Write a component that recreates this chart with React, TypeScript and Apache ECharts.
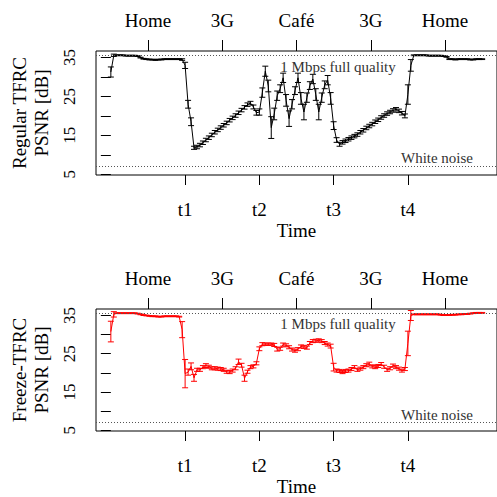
import React, { useEffect, useRef } from "react";
import * as echarts from "echarts";

// ---- data ----
const TIME_STEP = 0.04; // sampling interval in units of t
const T_POS = [1, 2, 3, 4];
const T_LABELS = ["t1", "t2", "t3", "t4"];
const PLACE_POS = [0.5, 1.5, 2.5, 3.5, 4.5];
const PLACES = ["Home", "3G", "Café", "3G", "Home"];
const Y_TICKS = [5, 10, 15, 20, 25, 30, 35];
const Y_LABELS = [5, 15, 25, 35];
const FULL_QUALITY = 35.5;
const WHITE_NOISE = 7.0;

const regularPsnr = [
  31.3, 35.6, 35.6, 35.6, 35.6, 35.5, 35.5, 35.5, 35.5, 35.4,
  35.0, 34.7, 34.6, 34.5, 34.5, 34.4, 34.5, 34.5, 34.6, 34.6,
  34.6, 34.6, 34.6, 34.6, 34.5, 33.0, 23.0, 18.5, 11.8, 12.0,
  12.5, 13.1, 13.8, 14.4, 15.1, 15.8, 16.4, 17.0, 17.6, 18.2,
  18.9, 19.5, 20.1, 20.8, 21.5, 22.2, 22.9, 23.3, 22.3, 20.8,
  21.0, 26.0, 31.5, 27.7, 17.0, 20.5, 25.2, 27.0, 29.8, 24.0,
  19.3, 23.0, 26.5, 29.8, 24.5, 21.0, 24.7, 27.8, 29.5, 25.5,
  21.0, 24.7, 28.0, 29.2, 24.5, 17.5, 13.8, 12.7, 13.2, 13.6,
  14.0, 14.4, 14.8, 15.2, 15.8, 16.3, 16.9, 17.4, 17.9, 18.5,
  19.0, 19.6, 20.1, 20.6, 21.0, 21.4, 21.7, 21.3, 20.7, 20.0,
  25.5, 33.0, 35.6, 35.6, 35.6, 35.6, 35.6, 35.5, 35.5, 35.5,
  35.5, 35.5, 35.4, 35.2, 34.6, 34.6, 34.5, 34.6, 34.6, 34.6,
  34.6, 34.5, 34.5, 34.6, 34.6, 34.6,
];
const regularErr = [
  1.3, 0.3, 0.1, 0.1, 0.1, 0.1, 0.1, 0.1, 0.1, 0.1,
  0.1, 0.1, 0.1, 0.1, 0.1, 0.1, 0.1, 0.1, 0.1, 0.1,
  0.1, 0.1, 0.1, 0.1, 0.2, 0.8, 1.0, 1.0, 0.4, 0.45,
  0.45, 0.45, 0.45, 0.45, 0.45, 0.45, 0.45, 0.45, 0.45, 0.45,
  0.45, 0.45, 0.45, 0.45, 0.45, 0.45, 0.45, 0.45, 0.5, 0.6,
  0.8, 1.2, 1.3, 1.5, 2.8, 1.5, 1.2, 1.0, 1.2, 1.5,
  2.0, 1.2, 1.0, 1.2, 1.5, 2.0, 1.2, 1.0, 1.2, 1.5,
  2.0, 1.2, 1.0, 1.2, 1.5, 1.0, 0.6, 0.5, 0.45, 0.45,
  0.45, 0.45, 0.45, 0.45, 0.45, 0.45, 0.45, 0.45, 0.45, 0.45,
  0.45, 0.45, 0.45, 0.45, 0.45, 0.45, 0.45, 0.45, 0.45, 0.5,
  2.5, 1.5, 0.1, 0.1, 0.1, 0.1, 0.1, 0.1, 0.1, 0.1,
  0.1, 0.1, 0.1, 0.1, 0.1, 0.1, 0.1, 0.1, 0.1, 0.1,
  0.1, 0.1, 0.1, 0.1, 0.1, 0.1,
];

const freezePsnr = [
  30.8, 35.3, 35.6, 35.6, 35.6, 35.6, 35.6, 35.6, 35.6, 35.5,
  35.3, 35.1, 35.0, 34.9, 34.8, 34.8, 34.7, 34.7, 34.8, 34.8,
  34.8, 34.8, 34.8, 34.7, 31.3, 19.8, 20.2, 21.7, 18.7, 20.8,
  20.8, 21.5, 21.9, 21.6, 21.2, 21.2, 21.1, 21.0, 20.8, 20.3,
  20.2, 20.6, 21.2, 22.9, 22.0, 18.6, 20.3, 21.5, 21.7, 22.5,
  26.3, 27.5, 27.5, 27.5, 27.5, 27.3, 26.2, 26.3, 27.4, 27.2,
  26.7, 26.1, 25.8, 26.2, 26.9, 26.8, 26.6, 27.8, 28.3, 28.4,
  28.5, 28.3, 27.8, 27.4, 27.0, 21.5, 20.6, 20.5, 20.2, 20.5,
  20.6, 21.0, 21.5, 20.8, 21.1, 21.5, 22.0, 22.3, 21.7, 21.5,
  21.8, 22.3, 21.6, 20.8, 21.2, 21.9, 21.5, 21.1, 20.6, 21.0,
  27.7, 35.0, 35.3, 35.3, 35.3, 35.3, 35.3, 35.3, 35.3, 35.3,
  35.3, 35.2, 35.1, 35.1, 35.1, 35.2, 35.2, 35.3, 35.3, 35.4,
  35.4, 35.5, 35.6, 35.7, 35.7, 35.7,
];
const freezeErr = [
  2.7, 0.7, 0.1, 0.1, 0.1, 0.1, 0.1, 0.1, 0.1, 0.1,
  0.1, 0.1, 0.1, 0.1, 0.1, 0.1, 0.1, 0.1, 0.1, 0.1,
  0.1, 0.1, 0.1, 0.1, 2.1, 3.7, 0.8, 0.9, 0.9, 0.4,
  0.4, 0.4, 0.5, 0.4, 0.4, 0.4, 0.4, 0.4, 0.4, 0.4,
  0.4, 0.4, 0.4, 0.7, 0.5, 0.8, 0.4, 0.4, 0.4, 0.4,
  0.5, 0.4, 0.3, 0.3, 0.3, 0.4, 0.5, 0.4, 0.4, 0.4,
  0.4, 0.4, 0.4, 0.4, 0.4, 0.4, 0.4, 0.4, 0.4, 0.4,
  0.4, 0.4, 0.4, 0.4, 0.5, 1.0, 0.4, 0.4, 0.4, 0.4,
  0.4, 0.4, 0.4, 0.4, 0.4, 0.4, 0.4, 0.5, 0.4, 0.4,
  0.4, 0.4, 0.4, 0.4, 0.4, 0.4, 0.4, 0.4, 0.4, 0.4,
  3.2, 1.3, 0.1, 0.1, 0.1, 0.1, 0.1, 0.1, 0.1, 0.1,
  0.1, 0.1, 0.1, 0.1, 0.1, 0.1, 0.1, 0.1, 0.1, 0.1,
  0.1, 0.1, 0.1, 0.1, 0.1, 0.1,
];

const FONT = "Liberation Serif";
const AXIS_FONT = 19;
const NOTE_FONT = 15;

function buildPanel(
  idx: number,
  top: number,
  title: string,
  psnr: number[],
  err: number[],
  color: string
) {
  const grid = {
    left: 96,
    top,
    width: 408,
    height: 124,
    show: true,
    borderColor: "#000",
    borderWidth: 1,
    backgroundColor: "transparent",
  };
  const textStyle = { color: "#000", fontFamily: FONT, fontSize: AXIS_FONT };
  const xBottom = {
    gridIndex: idx,
    type: "value",
    position: "bottom",
    min: -0.2,
    max: 5.2,
    axisLine: { show: false },
    splitLine: { show: false },
    axisTick: { show: true, customValues: T_POS, length: 10, lineStyle: { color: "#000", width: 1 } },
    axisLabel: {
      show: true,
      customValues: T_POS,
      formatter: (v: number) => T_LABELS[T_POS.indexOf(v)] ?? "",
      margin: 25,
      ...textStyle,
    },
    name: "Time",
    nameLocation: "middle",
    nameGap: 46,
    nameTextStyle: textStyle,
  };
  const xTop = {
    gridIndex: idx,
    type: "value",
    position: "top",
    min: -0.2,
    max: 5.2,
    axisLine: { show: false },
    splitLine: { show: false },
    axisTick: { show: true, customValues: PLACE_POS, length: 11, lineStyle: { color: "#000", width: 1 } },
    axisLabel: {
      show: true,
      customValues: PLACE_POS,
      formatter: (v: number) => PLACES[PLACE_POS.indexOf(v)] ?? "",
      margin: 21,
      ...textStyle,
    },
  };
  const y = {
    gridIndex: idx,
    type: "value",
    min: 4.8,
    max: 36.7,
    axisLine: { show: false },
    splitLine: { show: false },
    axisTick: { show: true, customValues: Y_TICKS, length: 10, lineStyle: { color: "#000", width: 1 } },
    axisLabel: {
      show: true,
      customValues: Y_LABELS,
      rotate: 90,
      margin: 18,
      ...textStyle,
      fontSize: 17,
    },
    name: title,
    nameLocation: "middle",
    nameRotate: 90,
    nameGap: 44,
    nameTextStyle: { ...textStyle, lineHeight: 22 },
  };
  const pts = psnr.map((v, i) => [i * TIME_STEP, v]);
  const bars = psnr.map((v, i) => [i * TIME_STEP, v - err[i], v + err[i]]);
  const line = {
    type: "line",
    xAxisIndex: idx * 2,
    yAxisIndex: idx,
    data: pts,
    showSymbol: false,
    symbol: "none",
    lineStyle: { color, width: 1 },
    z: 3,
    markLine: {
      silent: true,
      symbol: ["none", "none"],
      label: { show: false },
      lineStyle: { color: "#555", width: 1, type: [1, 2] },
      data: [{ yAxis: FULL_QUALITY }, { yAxis: WHITE_NOISE }],
    },
  };
  const errSeries = {
    type: "custom",
    xAxisIndex: idx * 2,
    yAxisIndex: idx,
    data: bars,
    encode: { x: 0, y: [1, 2] },
    z: 4,
    renderItem: (params: any, api: any) => {
      const x = api.value(0);
      const lo = api.coord([x, api.value(1)]);
      const hi = api.coord([x, api.value(2)]);
      const w = 3;
      const style = { stroke: color, lineWidth: 1 };
      return {
        type: "group",
        children: [
          { type: "line", shape: { x1: hi[0], y1: hi[1], x2: lo[0], y2: lo[1] }, style },
          { type: "line", shape: { x1: hi[0] - w, y1: hi[1], x2: hi[0] + w, y2: hi[1] }, style },
          { type: "line", shape: { x1: lo[0] - w, y1: lo[1], x2: lo[0] + w, y2: lo[1] }, style },
        ],
      };
    },
  };
  return { grid, xAxes: [xBottom, xTop], y, series: [line, errSeries] };
}

export default function App() {
  const ref = useRef<HTMLDivElement>(null);
  useEffect(() => {
    if (!ref.current) return;
    const chart = echarts.init(ref.current, null, { renderer: "svg" });
    const p1 = buildPanel(0, 51, "Regular TFRC\nPSNR [dB]", regularPsnr, regularErr, "#000000");
    const p2 = buildPanel(1, 309, "Freeze-TFRC\nPSNR [dB]", freezePsnr, freezeErr, "#ff0000");
    const note = (text: string, x: number, y: number) => ({
      type: "text",
      x,
      y,
      z: 10,
      style: {
        text,
        align: "center",
        verticalAlign: "middle",
        fontFamily: FONT,
        fontSize: NOTE_FONT,
        fill: "#333",
      },
    });
    chart.setOption({
      animation: false,
      backgroundColor: "#fff",
      grid: [p1.grid, p2.grid],
      xAxis: [...p1.xAxes, ...p2.xAxes],
      yAxis: [p1.y, p2.y],
      series: [...p1.series, ...p2.series],
      graphic: [
        note("1 Mbps full quality", 338, 67),
        note("White noise", 437, 158),
        note("1 Mbps full quality", 338, 324),
        note("White noise", 437, 415),
      ],
    });
    return () => chart.dispose();
  }, []);
  return (
    <div
      ref={ref}
      style={{ position: "fixed", left: 0, top: 0, width: 497, height: 497, overflow: "hidden" }}
    />
  );
}
